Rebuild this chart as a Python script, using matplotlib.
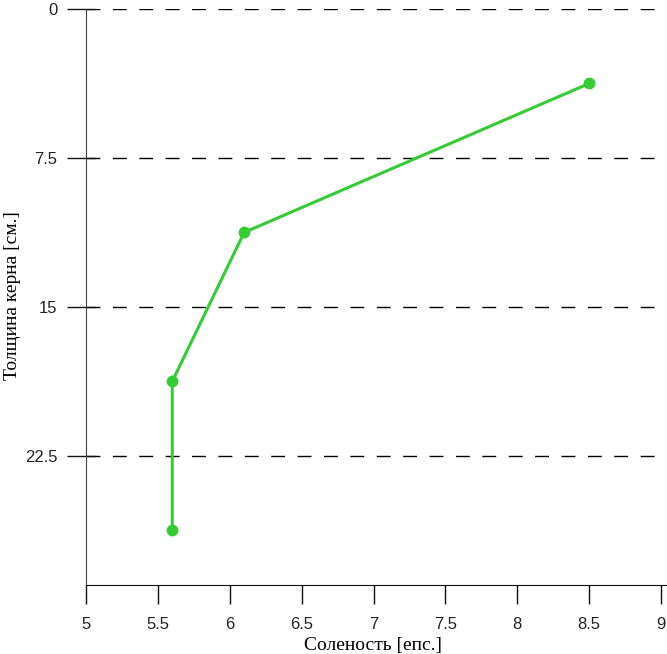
import matplotlib.pyplot as plt
import numpy as np

# Data
salinity = [8.5, 6.1, 5.6, 5.6]
depth = [3.75, 11.25, 18.75, 26.25]
x_ticks = [5, 5.5, 6, 6.5, 7, 7.5, 8, 8.5, 9]
x_tick_labels = ['5', '5.5', '6', '6.5', '7', '7.5', '8', '8.5', '9']
y_ticks = [0, 7.5, 15, 22.5]
y_tick_labels = ['0', '7.5', '15', '22.5']

fig = plt.figure(figsize=(6.67, 6.54), dpi=100)
ax = fig.add_axes([86 / 667, 1 - 585 / 654, (667 - 86) / 667, (585 - 9) / 654])

ax.plot(salinity, depth, color='#33cc33', linewidth=2.2, marker='o',
        markersize=7.5, zorder=3)

ax.set_xlim(5, 9 + 6 / 143.75)
ax.set_ylim(29, 0)

ax.set_xticks(x_ticks)
ax.set_xticklabels(x_tick_labels, family='Liberation Sans', fontsize=12)
ax.set_yticks(y_ticks)
ax.set_yticklabels(y_tick_labels, family='Liberation Sans', fontsize=12)
# short inward stubs at the same places as the major y ticks
ax.set_yticks(y_ticks, minor=True)
ax.yaxis.remove_overlapping_locs = False

ax.tick_params(axis='x', direction='out', length=14, width=1, pad=9, colors='#111111')
ax.tick_params(axis='y', which='major', direction='out', length=13.7, width=1, pad=7, colors='#111111')
ax.tick_params(axis='y', which='minor', direction='in', length=6.5, width=1, colors='#111111')
for lab in ax.get_xticklabels() + ax.get_yticklabels():
    lab.set_color('#222222')

# Horizontal dashed grid
ax.grid(True, axis='y', which='major', color='black', linestyle=(0, (10, 9)), linewidth=1)
ax.grid(False, axis='x')

ax.spines['top'].set_visible(False)
ax.spines['right'].set_visible(False)
ax.spines['left'].set_color('#444444')
ax.spines['bottom'].set_color('#111111')

ax.set_xlabel('Соленость [епс.]', family='Liberation Serif', fontsize=14)
ax.set_ylabel('Толщина керна [см.]', family='Liberation Serif', fontsize=14)
ax.xaxis.set_label_coords((373 - 86) / 581, -(637 - 585) / 576)
ax.yaxis.set_label_coords(-(86 - 21) / 581, 1 - (296 - 9) / 576)

fig.savefig('out.png', dpi=100)
